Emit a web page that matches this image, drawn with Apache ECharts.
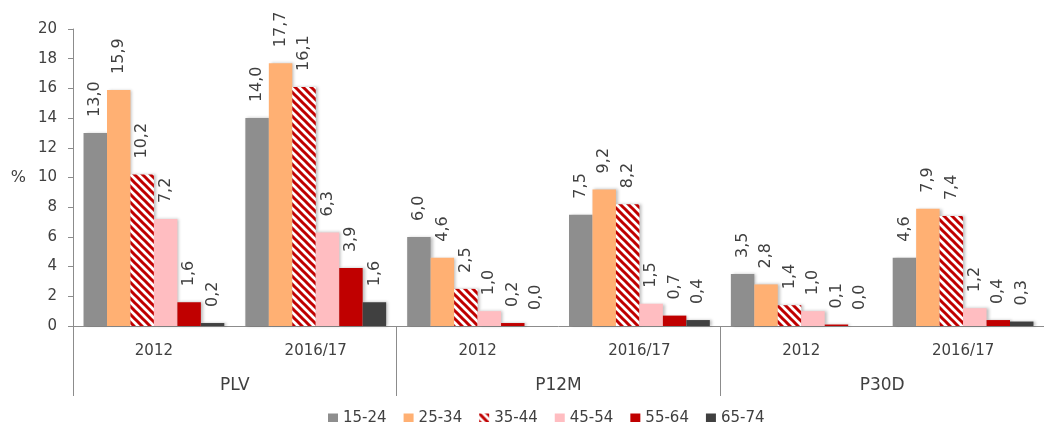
<!DOCTYPE html>
<html>
<head>
<meta charset="utf-8">
<script src="https://cdn.jsdelivr.net/npm/echarts@6/dist/echarts.min.js"></script>
<style>
  html, body { margin: 0; padding: 0; background: #fff; }
  #chart { width: 1044px; height: 422px; }
</style>
</head>
<body>
<div id="chart"></div>
<script>
    // categories: year inside each measure group
    var years = ['2012', '2016/17', '2012', '2016/17', '2012', '2016/17']
    var groups = ['PLV', 'P12M', 'P30D']
    var ageNames = ['15-24', '25-34', '35-44', '45-54', '55-64', '65-74']

    var age15_24 = [13.0, 14.0, 6.0, 7.5, 3.5, 4.6]
    var age25_34 = [15.9, 17.7, 4.6, 9.2, 2.8, 7.9]
    var age35_44 = [10.2, 16.1, 2.5, 8.2, 1.4, 7.4]
    var age45_54 = [7.2, 6.3, 1.0, 1.5, 1.0, 1.2]
    var age55_64 = [1.6, 3.9, 0.2, 0.7, 0.1, 0.4]
    var age65_74 = [0.2, 1.6, 0.0, 0.4, 0.0, 0.3]

    var yTicks = { min: 0, max: 20, interval: 2 }

    var fontFamily = 'DejaVu Sans'
    var textColor = '#404040'
    var axisColor = '#8c8c8c'

    // red / white diagonal stripes for 35-44
    function stripes () {
        var c = document.createElement('canvas')
        var s = 8
        c.width = s
        c.height = s
        var ctx = c.getContext('2d')
        ctx.fillStyle = '#ffffff'
        ctx.fillRect(0, 0, s, s)
        ctx.strokeStyle = '#c00000'
        ctx.lineWidth = 3
        ctx.beginPath()
        ctx.moveTo(-2, -2); ctx.lineTo(s + 2, s + 2)
        ctx.moveTo(-2, s - 2); ctx.lineTo(2, s + 2)
        ctx.moveTo(s - 2, -2); ctx.lineTo(s + 2, 2)
        ctx.stroke()
        return c
    }

    var colors = ['#8e8e8e', '#ffb073', { image: stripes(), repeat: 'repeat' }, '#ffbdc1', '#c00000', '#404040']
    var values = [age15_24, age25_34, age35_44, age45_54, age55_64, age65_74]

    var series = ageNames.map(function (name, i) {
        return {
            name: name,
            type: 'bar',
            barGap: 0,
            barCategoryGap: '13%',
            data: values[i],
            itemStyle: {
                color: colors[i],
                shadowColor: 'rgba(0,0,0,0.25)',
                shadowBlur: 3,
                shadowOffsetX: 2
            },
            label: {
                show: true,
                position: 'top',
                rotate: 90,
                align: 'left',
                verticalAlign: 'middle',
                distance: 16,
                color: textColor,
                fontFamily: fontFamily,
                fontSize: 16,
                formatter: function (p) {
                    return p.value.toFixed(1).replace('.', ',')
                }
            }
        }
    })

    var option = {
        animation: false,
        grid: {
            left: 73,
            top: 29,
            width: 981,
            bottom: 96
        },
        legend: {
            top: 406,
            left: 323,
            itemWidth: 10,
            itemHeight: 10,
            itemGap: 17,
            icon: 'rect',
            textStyle: { color: textColor, fontFamily: fontFamily, fontSize: 15 },
            data: ageNames
        },
        xAxis: [
            {
                type: 'category',
                data: years,
                axisLine: { lineStyle: { color: axisColor } },
                axisTick: { show: false },
                axisLabel: { color: textColor, fontFamily: fontFamily, fontSize: 15, margin: 18 }
            },
            {
                type: 'category',
                data: groups,
                position: 'bottom',
                axisLine: { show: false },
                axisTick: { show: true, length: 70, lineStyle: { color: axisColor } },
                axisLabel: { color: textColor, fontFamily: fontFamily, fontSize: 17, margin: 51 }
            }
        ],
        yAxis: {
            type: 'value',
            min: yTicks.min,
            max: yTicks.max,
            interval: yTicks.interval,
            name: '%',
            nameLocation: 'middle',
            nameRotate: 0,
            nameGap: 47,
            nameTextStyle: { color: textColor, fontFamily: fontFamily, fontSize: 16 },
            axisLine: { show: true, lineStyle: { color: axisColor } },
            axisTick: { show: true, length: 5, lineStyle: { color: axisColor } },
            splitLine: { show: false },
            axisLabel: { color: textColor, fontFamily: fontFamily, fontSize: 15, margin: 16 }
        },
        series: series
    }

    var dom = echarts.init(document.getElementById('chart'))
    dom.setOption(option)
</script>
</body>
</html>
